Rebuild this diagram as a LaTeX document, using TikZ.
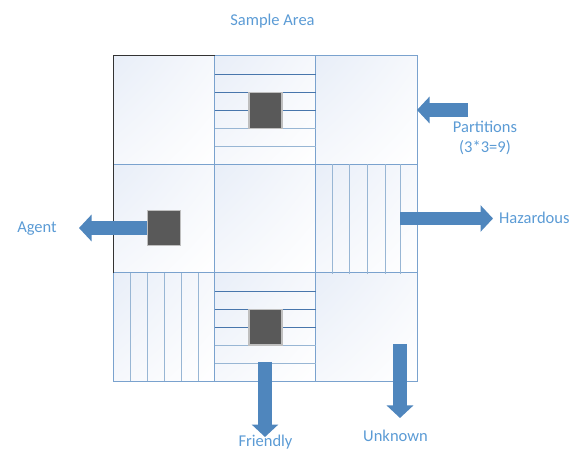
\documentclass[tikz,border=0pt]{standalone}
\usepackage{fontspec}
\setmainfont{Carlito}
\usetikzlibrary{arrows.meta,shadings}

\definecolor{cellline}{RGB}{122,162,206}
\definecolor{stripedark}{RGB}{72,118,172}
\definecolor{stripelight}{RGB}{152,182,212}
\definecolor{cellhi}{RGB}{232,238,248}
\definecolor{cellmid}{RGB}{246,248,252}
\definecolor{blockfill}{RGB}{79,134,189}
\definecolor{labeltext}{RGB}{91,155,213}
\definecolor{agentgray}{RGB}{89,89,89}

\tikzset{
  cellbox/.style={draw=cellline, line width=1pt, shade,
    upper left=cellhi, upper right=cellmid, lower left=cellmid, lower right=white,
    minimum width=101.2pt, minimum height=108.5pt, inner sep=0pt, outer sep=0pt},
  agentbox/.style={fill=agentgray, draw=black!25, line width=1.2pt,
    minimum width=33pt, minimum height=35.5pt, inner sep=0pt},
  stripe/.style={stripelight, line width=1pt},
  stripedk/.style={stripedark, line width=1pt},
  blockarrow/.style={draw=blockfill, line width=13.5pt,
    -{Triangle[length=12.5pt, width=26pt]}},
  caption/.style={text=labeltext, font=\fontsize{16.5}{20}\selectfont,
    inner sep=0pt, anchor=base},
}

\begin{document}
\begin{tikzpicture}[x=1pt, y=-1pt]
\useasboundingbox (0,0) rectangle (579,449);

% 3x3 grid of partitions
\node[cellbox] (c11) at (163.9,110.25) {};
\node[cellbox] (c12) at (265.15,110.25) {};
\node[cellbox] (c13) at (366.4,110.25) {};
\node[cellbox] (c21) at (163.9,218.75) {};
\node[cellbox] (c22) at (265.15,218.75) {};
\node[cellbox] (c23) at (366.4,218.75) {};
\node[cellbox] (c31) at (163.9,327.25) {};
\node[cellbox] (c32) at (265.15,327.25) {};
\node[cellbox] (c33) at (366.4,327.25) {};

% dark outline on the upper left corner
\draw[black!80, line width=1pt] (c21.south west) -- (c11.north west) -- (c11.north east);

% horizontal stripes (friendly partitions)
\foreach \y/\s in {74.3/stripedk, 92.3/stripedk, 110.3/stripedk, 128.7/stripe, 146.7/stripe}
  \draw[\s] (c12.west |- 0,\y) -- (c12.east |- 0,\y);
\foreach \y/\s in {291.7/stripedk, 309.3/stripedk, 327.3/stripedk, 345.3/stripe, 363.3/stripe}
  \draw[\s] (c32.west |- 0,\y) -- (c32.east |- 0,\y);

% vertical stripes (hazardous partitions)
\foreach \x in {332.7, 349.3, 367, 385, 400.3}
  \draw[stripe] (\x,164.5) -- (\x,274);
\foreach \x in {130, 147, 164.3, 181.3, 198}
  \draw[stripe] (\x,273) -- (\x,381.5);

% agents
\node[agentbox] (sq12) at (265.5,110.5) {};
\node[agentbox] (sq21) at (163.8,228) {};
\node[agentbox] (sq32) at (265.5,327.2) {};

% labels
\node[caption] (title) at (272.5,26) {Sample Area};
\node[caption] (part1) at (485,132.3) {Partitions};
\node[caption] (part2) at (485,152.3) {(3*3=9)};
\node[caption, anchor=base west] (haz) at (499,224) {Hazardous};
\node[caption] (agent) at (37,232.3) {Agent};
\node[caption] (unk) at (395.5,441) {Unknown};
\node[caption] (fri) at (265.5,446.5) {Friendly};

% block arrows
\coordinate (partTail) at (468,110);
\coordinate (hazTail) at (400,218.5);
\coordinate (hazTip) at (493,218.5);
\coordinate (agentTip) at (79,228);
\coordinate (friTail) at (265,362);
\coordinate (friTip) at (265,437);
\coordinate (unkTail) at (400,344);
\coordinate (unkTip) at (400,418);

\draw[blockarrow] (partTail) -- (partTail -| c13.east);
\draw[blockarrow] (hazTail) -- (hazTip);
\draw[blockarrow] (sq21.west) -- (agentTip);
\draw[blockarrow] (friTail) -- (friTip);
\draw[blockarrow] (unkTail) -- (unkTip);
\end{tikzpicture}
\end{document}
